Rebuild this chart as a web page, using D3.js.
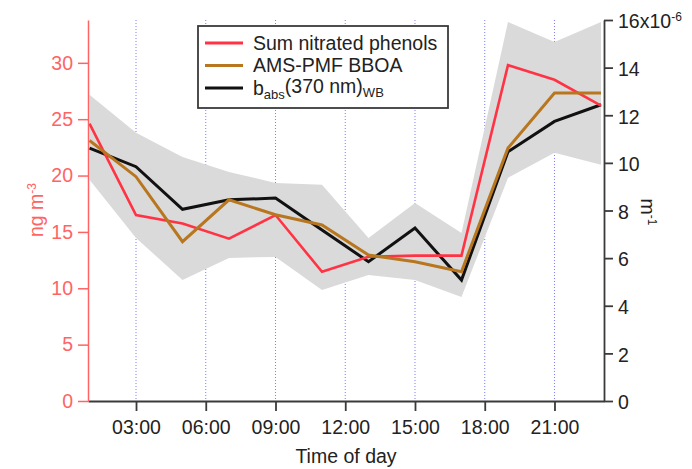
<!DOCTYPE html>
<html>
<head>
<meta charset="utf-8">
<script src="https://cdn.jsdelivr.net/npm/d3@7"></script>
<style>
  body { margin: 0; background: #fff; }
  text { font-family: "Liberation Sans", Arial, sans-serif; }
</style>
</head>
<body>
<div id="chart"></div>
<script>
// hour of day for each point (2-hourly means)
var hours = [1, 3, 5, 7, 9, 11, 13, 15, 17, 19, 21, 23];
// left axis, ng m-3
var nitratedPhenols = [24.6, 16.5, 15.75, 14.4, 16.5, 11.46, 12.8, 12.9, 12.9, 29.8, 28.5, 26.2];
// right axis, x1e-6 m-1
var bboa = [10.94, 9.42, 6.69, 8.45, 7.82, 7.39, 6.13, 5.85, 5.43, 10.62, 12.93, 12.93];
var babs = [10.62, 9.84, 8.05, 8.45, 8.52, 7.18, 5.85, 7.26, 5.08, 10.47, 11.74, 12.44];
var babsUpper = [12.86, 11.26, 10.25, 9.62, 9.16, 9.08, 6.85, 8.32, 7.06, 15.92, 15.08, 15.92];
var babsLower = [9.29, 6.85, 5.08, 6.01, 6.05, 4.66, 5.29, 5.08, 4.37, 9.37, 10.42, 9.92];

var xTicks = [3, 6, 9, 12, 15, 18, 21];
var xTickLabels = ["03:00", "06:00", "09:00", "12:00", "15:00", "18:00", "21:00"];
var leftTicks = [0, 5, 10, 15, 20, 25, 30];
var rightTicks = [0, 2, 4, 6, 8, 10, 12, 14, 16];

var legendItems = ["Sum nitrated phenols", "AMS-PMF BBOA", "babs"];

var width = 692, height = 469;
var plotLeft = 88, plotRight = 604, plotTop = 20, plotBottom = 401;
var fs = "19.5px";
var redAxis = "#ff6464", redLine = "#ff3344", brown = "#b8761e", dark = "#3a3a3a";

var svg = d3.select("#chart").append("svg")
    .attr("width", width).attr("height", height);

var x = d3.scaleLinear().domain([0.935, 23.13]).range([plotLeft, plotRight]);
var yL = d3.scaleLinear().domain([0, 33.8]).range([plotBottom, plotTop]);
var yR = d3.scaleLinear().domain([0, 16]).range([plotBottom, plotTop]);

var rows = hours.map(function(h, i) {
    return {h: h, red: nitratedPhenols[i], brown: bboa[i], black: babs[i], hi: babsUpper[i], lo: babsLower[i]};
});

// vertical dotted grid
svg.append("g").selectAll("line")
    .data(xTicks)
    .enter().append("line")
    .attr("x1", function(d) { return x(d); })
    .attr("x2", function(d) { return x(d); })
    .attr("y1", plotTop).attr("y2", plotBottom)
    .attr("stroke", "#7d7dff")
    .attr("stroke-width", 1)
    .attr("stroke-dasharray", "1,2");

// uncertainty band
var band = d3.area()
    .x(function(d) { return x(d.h); })
    .y0(function(d) { return yR(d.lo); })
    .y1(function(d) { return yR(d.hi); });

svg.append("path")
    .datum(rows)
    .attr("d", band)
    .attr("fill", "#dadada");

function lineFor(key, scale) {
    return d3.line()
        .x(function(d) { return x(d.h); })
        .y(function(d) { return scale(d[key]); });
}

svg.append("path").datum(rows)
    .attr("d", lineFor("black", yR))
    .attr("fill", "none").attr("stroke", "#111").attr("stroke-width", 3);

svg.append("path").datum(rows)
    .attr("d", lineFor("red", yL))
    .attr("fill", "none").attr("stroke", redLine).attr("stroke-width", 2.6);

svg.append("path").datum(rows)
    .attr("d", lineFor("brown", yR))
    .attr("fill", "none").attr("stroke", brown).attr("stroke-width", 3);

// x axis
var xAxis = d3.axisBottom(x)
    .tickValues(xTicks)
    .tickFormat(function(d, i) { return xTickLabels[i]; })
    .tickSize(10).tickSizeOuter(0).tickPadding(9);

var gx = svg.append("g")
    .attr("transform", "translate(0," + plotBottom + ")")
    .call(xAxis);
gx.select(".domain").attr("stroke", dark).attr("stroke-width", 1.8);
gx.selectAll(".tick line").attr("stroke", dark).attr("stroke-width", 1.8);
gx.selectAll("text").attr("fill", "#222").style("font-size", fs);

svg.append("text")
    .attr("x", (plotLeft + plotRight) / 2).attr("y", 456)
    .attr("dy", "0.35em")
    .attr("text-anchor", "middle")
    .attr("fill", "#222")
    .style("font-size", fs)
    .text("Time of day");

// left axis
var yAxisL = d3.axisLeft(yL)
    .tickValues(leftTicks)
    .tickSize(10).tickSizeOuter(0).tickPadding(5);

var gl = svg.append("g")
    .attr("transform", "translate(" + plotLeft + ",0)")
    .call(yAxisL);
gl.select(".domain").attr("stroke", redAxis).attr("stroke-width", 1.5);
gl.selectAll(".tick line").attr("stroke", redAxis).attr("stroke-width", 1.5);
gl.selectAll("text").attr("fill", redAxis).style("font-size", fs);

var lt = svg.append("text")
    .attr("transform", "translate(43,210) rotate(-90)")
    .attr("text-anchor", "middle")
    .attr("fill", redAxis)
    .style("font-size", fs);
lt.append("tspan").text("ng m");
lt.append("tspan").attr("dy", "-0.6em").style("font-size", "12px").text("-3");

// right axis
var yAxisR = d3.axisRight(yR)
    .tickValues(rightTicks)
    .tickFormat(function(d) { return d === 16 ? "" : d; })
    .tickSize(9).tickSizeOuter(0).tickPadding(5);

var gr = svg.append("g")
    .attr("transform", "translate(" + plotRight + ",0)")
    .call(yAxisR);
gr.select(".domain").attr("stroke", dark).attr("stroke-width", 1.8);
gr.selectAll(".tick line").attr("stroke", dark).attr("stroke-width", 1.8);
gr.selectAll("text").attr("fill", "#222").style("font-size", fs).attr("dy", "0.4em");

var topLab = svg.append("text")
    .attr("x", plotRight + 14).attr("y", yR(16))
    .attr("dy", "0.4em")
    .attr("fill", "#222")
    .style("font-size", fs);
topLab.append("tspan").text("16x10");
topLab.append("tspan").attr("dy", "-0.6em").style("font-size", "12px").text("-6");

var rt = svg.append("text")
    .attr("transform", "translate(641,212) rotate(90)")
    .attr("text-anchor", "middle")
    .attr("fill", "#222")
    .style("font-size", fs);
rt.append("tspan").text("m");
rt.append("tspan").attr("dy", "-0.6em").style("font-size", "12px").text("-1");

// legend
var lg = svg.append("g");
lg.append("rect")
    .attr("x", 198).attr("y", 26).attr("width", 250).attr("height", 82)
    .attr("fill", "#fff").attr("stroke", dark).attr("stroke-width", 1.8);

var legendColors = [redLine, brown, "#111"];
var legendY = d3.scalePoint().domain(d3.range(legendItems.length)).range([43, 88]);

legendItems.forEach(function(name, i) {
    var yy = legendY(i);
    lg.append("line")
        .attr("x1", 205).attr("x2", 243)
        .attr("y1", yy).attr("y2", yy)
        .attr("stroke", legendColors[i]).attr("stroke-width", 3);
    var t = lg.append("text")
        .attr("x", 253).attr("y", yy)
        .attr("dy", "0.35em")
        .attr("fill", "#222")
        .style("font-size", fs);
    if (name === "babs") {
        t.append("tspan").text("b");
        t.append("tspan").attr("dy", "0.35em").style("font-size", "13px").text("abs");
        t.append("tspan").attr("dy", "-0.35em").text("(370 nm)");
        t.append("tspan").attr("dy", "0.35em").style("font-size", "13px").text("WB");
    } else {
        t.text(name);
    }
});
</script>
</body>
</html>
